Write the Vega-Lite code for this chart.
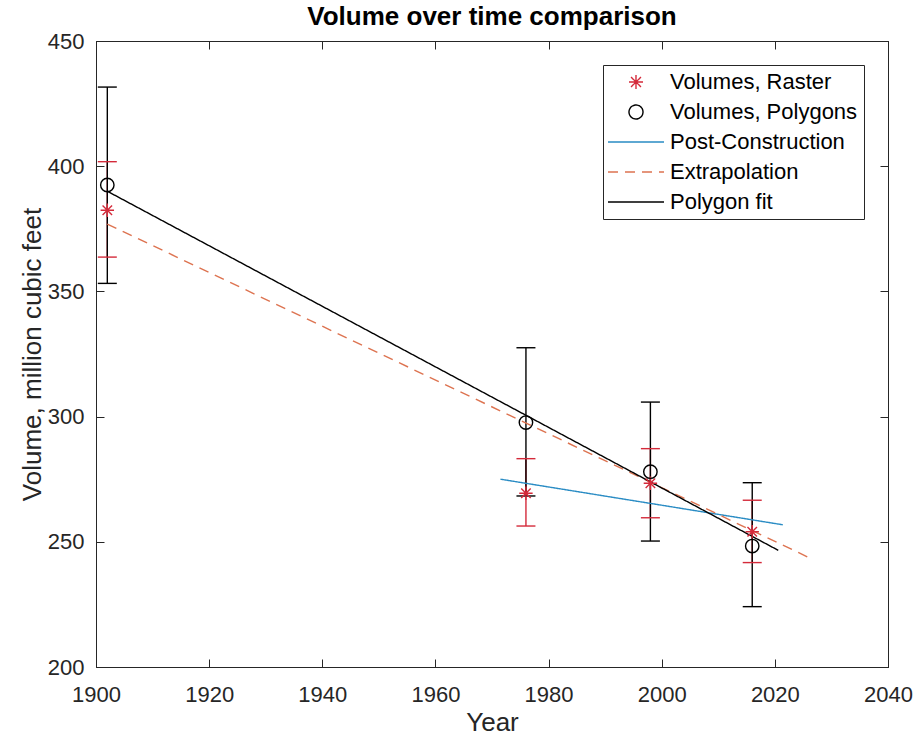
{
  "$schema": "https://vega.github.io/schema/vega-lite/v6.json",
  "width": 792,
  "height": 626,
  "autosize": {"type": "none"},
  "padding": {"left": 96, "top": 41, "right": 32, "bottom": 76},
  "background": "white",
  "title": {"text": "Volume over time comparison", "fontSize": 26, "fontWeight": "bold", "font": "Liberation Sans", "color": "#000000", "anchor": "middle", "offset": 0},
  "datasets": {
    "pts": [
      {"series": "Volumes, Raster", "year": 1902, "value": 382.4, "lo": 363.7, "hi": 401.8},
      {"series": "Volumes, Raster", "year": 1976, "value": 269.4, "lo": 256.3, "hi": 283.2},
      {"series": "Volumes, Raster", "year": 1998, "value": 273.4, "lo": 259.6, "hi": 287.2},
      {"series": "Volumes, Raster", "year": 2016, "value": 254.0, "lo": 241.7, "hi": 266.6},
      {"series": "Volumes, Polygons", "year": 1902, "value": 392.5, "lo": 353.2, "hi": 431.6},
      {"series": "Volumes, Polygons", "year": 1976, "value": 297.6, "lo": 268.3, "hi": 327.5},
      {"series": "Volumes, Polygons", "year": 1998, "value": 278.0, "lo": 250.3, "hi": 305.8},
      {"series": "Volumes, Polygons", "year": 2016, "value": 248.3, "lo": 224.1, "hi": 273.6}
    ],
    "lines": [
      {"series": "Post-Construction", "year": 1971.5, "value": 275.0},
      {"series": "Post-Construction", "year": 2021.4, "value": 256.8},
      {"series": "Extrapolation", "year": 1902, "value": 376.9},
      {"series": "Extrapolation", "year": 2026.4, "value": 243.3},
      {"series": "Polygon fit", "year": 1902, "value": 390.0},
      {"series": "Polygon fit", "year": 2020.6, "value": 246.6}
    ]
  },
  "encoding": {
    "color": {
      "field": "series", "type": "nominal",
      "scale": {
        "domain": ["Volumes, Raster", "Volumes, Polygons", "Post-Construction", "Extrapolation", "Polygon fit"],
        "range": ["#d42a3a", "#000000", "#2a8cc4", "#dd7350", "#000000"]
      },
      "legend": {
        "title": null,
        "orient": "none",
        "legendX": 507,
        "legendY": 24,
        "symbolSize": 196,
        "symbolOffset": 16,
        "symbolStrokeWidth": 1.4,
        "labelFontSize": 22,
        "labelFont": "Liberation Sans",
        "labelColor": "#000000",
        "labelOffset": 23,
        "labelLimit": 400,
        "rowPadding": 8,
        "padding": 6,
        "strokeColor": "#262626",
        "fillColor": "#ffffff",
        "cornerRadius": 0,
        "encode": {
          "symbols": {
            "update": {
              "fill": {"value": "transparent"}
            }
          }
        }
      }
    }
  },
  "layer": [
    {
      "data": {"name": "pts"},
      "mark": {"type": "rule", "strokeWidth": 1.4},
      "encoding": {
        "x": {"field": "year", "type": "quantitative", "scale": {"domain": [1900, 2040], "nice": false, "zero": false},
              "axis": {"orient": "bottom", "values": [1900, 1920, 1940, 1960, 1980, 2000, 2020, 2040], "title": "Year", "format": "d", "labelPadding": 25, "titlePadding": 4, "labelFlush": false}},
        "y": {"field": "lo", "type": "quantitative", "scale": {"domain": [200, 450], "nice": false, "zero": false},
              "axis": {"orient": "left", "values": [200, 250, 300, 350, 400, 450], "title": "Volume, million cubic feet", "labelPadding": 20, "titlePadding": 2, "labelFlush": false}},
        "y2": {"field": "hi"}
      }
    },
    {
      "data": {"name": "pts"},
      "mark": {"type": "point", "shape": "stroke", "size": 361, "filled": false, "strokeWidth": 1.4, "opacity": 1},
      "encoding": {
        "x": {"field": "year", "type": "quantitative", "axis": null},
        "y": {"field": "lo", "type": "quantitative", "axis": null}
      }
    },
    {
      "data": {"name": "pts"},
      "mark": {"type": "point", "shape": "stroke", "size": 361, "filled": false, "strokeWidth": 1.4, "opacity": 1},
      "encoding": {
        "x": {"field": "year", "type": "quantitative", "axis": null},
        "y": {"field": "hi", "type": "quantitative", "axis": null}
      }
    },
    {
      "data": {"name": "lines"},
      "mark": {"type": "line", "strokeWidth": 1.4},
      "encoding": {
        "x": {"field": "year", "type": "quantitative", "axis": null},
        "y": {"field": "value", "type": "quantitative", "axis": null},
        "strokeDash": {"field": "series", "type": "nominal",
          "scale": {"domain": ["Volumes, Raster", "Volumes, Polygons", "Post-Construction", "Extrapolation", "Polygon fit"],
                    "range": [[1, 0], [1, 0], [1, 0], [10, 7], [1, 0]]}}
      }
    },
    {
      "data": {"name": "pts"},
      "mark": {"type": "point", "filled": false, "strokeWidth": 1.4, "size": 180, "opacity": 1},
      "encoding": {
        "x": {"field": "year", "type": "quantitative", "axis": null},
        "y": {"field": "value", "type": "quantitative", "axis": null},
        "shape": {"field": "series", "type": "nominal",
          "scale": {"domain": ["Volumes, Raster", "Volumes, Polygons", "Post-Construction", "Extrapolation", "Polygon fit"],
                    "range": ["M-1,0L1,0M0,-1L0,1M-0.7071,-0.7071L0.7071,0.7071M-0.7071,0.7071L0.7071,-0.7071", "circle", "M-4,0L4,0", "M-4,0L4,0", "M-4,0L4,0"]}}
      }
    },
    {
      "data": {"name": "lines"},
      "mark": {"type": "point", "opacity": 0},
      "encoding": {
        "x": {"field": "year", "type": "quantitative",
              "axis": {"orient": "top", "values": [1900, 1920, 1940, 1960, 1980, 2000, 2020, 2040], "labels": false, "title": null}},
        "y": {"field": "value", "type": "quantitative",
              "axis": {"orient": "right", "values": [200, 250, 300, 350, 400, 450], "labels": false, "title": null}},
        "color": {"value": "transparent"}
      }
    }
  ],
  "resolve": {"axis": {"x": "independent", "y": "independent"}},
  "config": {
    "view": {"stroke": "#262626", "strokeWidth": 1},
    "axis": {
      "domainColor": "#262626",
      "tickColor": "#262626",
      "labelColor": "#262626",
      "titleColor": "#262626",
      "labelFont": "Liberation Sans",
      "titleFont": "Liberation Sans",
      "labelFontSize": 22,
      "titleFontSize": 26,
      "titleFontWeight": "normal",
      "grid": false,
      "tickSize": -8,
      "domainWidth": 1,
      "tickWidth": 1
    }
  }
}
